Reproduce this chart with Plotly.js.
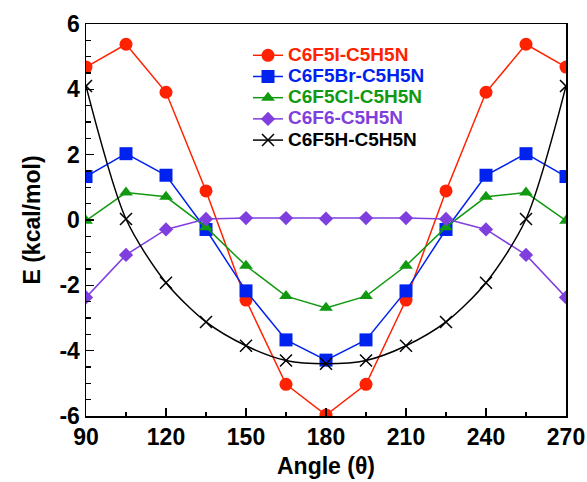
<!DOCTYPE html>
<html>
<head>
<meta charset="utf-8">
<script src="https://cdn.plot.ly/plotly-3.0.1.min.js"></script>
<style>
html,body{margin:0;padding:0;background:#fff;}
#chart{width:587px;height:482px;}
#chart .legendtext{font-size:19px !important;}
#chart .legend, #chart .legend .scrollbox, #chart .legend g{clip-path:none !important;}
</style>
</head>
<body>
<div id="chart"></div>
<script>
const angles = [90, 105, 120, 135, 150, 165, 180, 195, 210, 225, 240, 255, 270];
const seriesNames = ['C6F5I-C5H5N', 'C6F5Br-C5H5N', 'C6F5Cl-C5H5N', 'C6F6-C5H5N', 'C6F5H-C5H5N'];
const eI  = [4.68, 5.38, 3.91, 0.89, -2.45, -5.03, -5.97, -5.03, -2.45, 0.89, 3.91, 5.38, 4.68];
const eBr = [1.33, 2.03, 1.37, -0.29, -2.17, -3.67, -4.29, -3.67, -2.17, -0.29, 1.37, 2.03, 1.33];
const eCl = [-0.02, 0.84, 0.71, -0.22, -1.40, -2.33, -2.69, -2.33, -1.40, -0.22, 0.71, 0.84, -0.02];
const eF  = [-2.37, -1.07, -0.29, 0.03, 0.06, 0.06, 0.04, 0.06, 0.06, 0.03, -0.29, -1.07, -2.37];
const eH  = [4.10, 0.03, -1.92, -3.12, -3.85, -4.30, -4.40, -4.30, -3.85, -3.12, -1.92, 0.03, 4.10];
const xTickVals = [90, 120, 150, 180, 210, 240, 270];
const xTickText = ['90', '120', '150', '180', '210', '240', '270'];
const yTickVals = [-6, -4, -2, 0, 2, 4, 6];
const yTickText = ['-6', '-4', '-2', '0', '2', '4', '6'];

const colors = ['#ff2200', '#0022ee', '#119911', '#7f3fdf', '#000000'];
const symbols = ['circle', 'square', 'triangle-up', 'diamond', 'x-thin-open'];
const sizes = [13, 13, 12, 11, 12];
const shapes = ['linear', 'linear', 'linear', 'linear', 'spline'];
const values = [eI, eBr, eCl, eF, eH];

const traces = values.map((v, i) => ({
  x: angles, y: v, type: 'scatter', mode: 'lines+markers',
  name: '<span style="color:' + colors[i] + '">' + seriesNames[i] + '</span>',
  line: {color: colors[i], width: 1.5, shape: shapes[i], smoothing: 0.8},
  marker: {symbol: symbols[i], size: sizes[i], color: colors[i],
           line: {color: colors[i], width: i === 4 ? 1.5 : 0}}
}));

const FAM = 'Liberation Sans, Arial, sans-serif';
const axisFont = {family: FAM, size: 23, color: '#000', weight: 'bold'};
const titleFont = {family: FAM, size: 23, color: '#000', weight: 'bold'};
const layout = {
  width: 587, height: 482,
  margin: {l: 86, r: 21, t: 24, b: 66},
  paper_bgcolor: '#fff', plot_bgcolor: '#fff',
  showlegend: true,
  legend: {x: 0.3375, y: 0.96, xanchor: 'left', yanchor: 'top', bgcolor: 'rgba(0,0,0,0)',
           font: {family: FAM, size: 14, weight: 'bold'},
           tracegroupgap: 0, itemwidth: 30},
  xaxis: {
    range: [90, 270], tickmode: 'array', tickvals: xTickVals, ticktext: xTickText,
    ticks: 'inside', ticklen: 8, tickwidth: 1.5, tickcolor: '#000',
    minor: {dtick: 15, tick0: 90, ticks: 'inside', ticklen: 4, tickwidth: 1.5, tickcolor: '#000'},
    showline: true, linecolor: '#000', linewidth: 1.5, mirror: true,
    showgrid: false, zeroline: false, tickfont: axisFont,
    title: {text: 'Angle (θ)', font: titleFont, standoff: 9}
  },
  yaxis: {
    range: [-6, 6], tickmode: 'array', tickvals: yTickVals, ticktext: yTickText,
    ticks: 'inside', ticklen: 8, tickwidth: 1.5, tickcolor: '#000',
    minor: {dtick: 0.5, tick0: 0, ticks: 'inside', ticklen: 5, tickwidth: 1.5, tickcolor: '#000'},
    showline: true, linecolor: '#000', linewidth: 1.5, mirror: true,
    showgrid: false, zeroline: false, tickfont: axisFont,
    title: {text: 'E (kcal/mol)', font: titleFont, standoff: 12}
  }
};
Plotly.newPlot('chart', traces, layout, {displayModeBar: false, staticPlot: true});
</script>
</body>
</html>
